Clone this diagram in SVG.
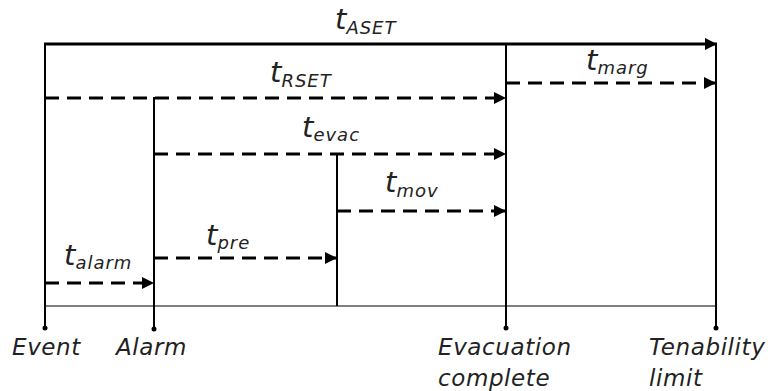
<svg xmlns="http://www.w3.org/2000/svg" width="768" height="391" viewBox="0 0 768 391">
<defs>
<marker id="ah" viewBox="0 0 10 10" refX="10" refY="5" markerWidth="4" markerHeight="4" orient="auto" markerUnits="strokeWidth">
<path d="M0,0 L10,5 L0,10 Z" fill="#000"/>
</marker>
</defs>
<style>
.v{stroke:#000;stroke-width:2;fill:none}
.d{stroke:#000;stroke-width:3;stroke-dasharray:14 8;fill:none;marker-end:url(#ah)}
.s{stroke:#000;stroke-width:3;fill:none;marker-end:url(#ah)}
.b{stroke:#555;stroke-width:1.5;fill:none}
.lab{font-family:"DejaVu Sans",sans-serif;font-style:italic;fill:#222}
.t{font-size:29px}
.sub{font-size:18px;letter-spacing:1px}
.ev{font-size:23px;letter-spacing:0.6px;fill:#222;font-family:"DejaVu Sans",sans-serif;font-style:italic}
</style>
<rect width="768" height="391" fill="#fff"/>
<g id="axes">
<line class="b" x1="45" y1="306" x2="716" y2="306"/>
</g>
<g id="event">
<line class="v" x1="45" y1="43" x2="45" y2="328"/>
<circle cx="45" cy="328" r="2.5"/>
<text class="ev" x="12" y="355">Event</text>
</g>
<g id="alarm">
<line class="v" x1="154" y1="97" x2="154" y2="329"/>
<circle cx="154" cy="329" r="2.5"/>
<text class="ev" x="116" y="355">Alarm</text>
</g>
<g id="premove-end">
<line class="v" x1="337" y1="153" x2="337" y2="306"/>
</g>
<g id="evacuation-complete">
<line class="v" x1="506" y1="43" x2="506" y2="328"/>
<circle cx="506" cy="328" r="2.5"/>
<text class="ev" x="438" y="355">Evacuation</text>
<text class="ev" x="438" y="386">complete</text>
</g>
<g id="tenability-limit">
<line class="v" x1="716" y1="43" x2="716" y2="328"/>
<circle cx="716" cy="328" r="2.5"/>
<text class="ev" x="649" y="355">Tenability</text>
<text class="ev" x="649" y="386">limit</text>
</g>
<g id="connectors">
<line class="s" x1="44" y1="44" x2="717" y2="44"/>
<line class="d" x1="45" y1="98" x2="506" y2="98"/>
<line class="d" x1="506" y1="83" x2="716" y2="83"/>
<line class="d" x1="154" y1="154" x2="506" y2="154"/>
<line class="d" x1="337" y1="211" x2="506" y2="211"/>
<line class="d" x1="154" y1="258" x2="337" y2="258"/>
<line class="d" x1="45" y1="283" x2="154" y2="283"/>
</g>
<g id="labels" class="lab">
<text x="335" y="29"><tspan class="t">t</tspan><tspan class="sub" dy="5">ASET</tspan></text>
<text x="270" y="82"><tspan class="t">t</tspan><tspan class="sub" dy="5">RSET</tspan></text>
<text x="302" y="137"><tspan class="t">t</tspan><tspan class="sub" dy="4">evac</tspan></text>
<text x="385" y="192"><tspan class="t">t</tspan><tspan class="sub" dy="5">mov</tspan></text>
<text x="586" y="70"><tspan class="t">t</tspan><tspan class="sub" dy="4">marg</tspan></text>
<text x="206" y="245"><tspan class="t">t</tspan><tspan class="sub" dy="4">pre</tspan></text>
<text x="64" y="265"><tspan class="t">t</tspan><tspan class="sub" dy="4">alarm</tspan></text>
</g>
</svg>
